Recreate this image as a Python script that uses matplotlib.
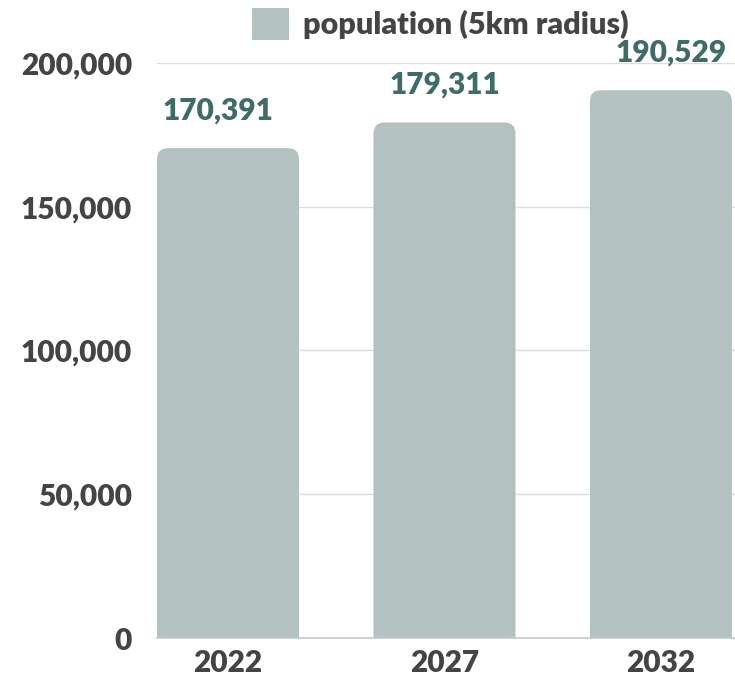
import matplotlib
matplotlib.use("Agg")
import matplotlib.pyplot as plt
from matplotlib.patches import FancyBboxPatch, Patch
from matplotlib.ticker import FuncFormatter

years = ["2022", "2027", "2032"]
population = [170391, 179311, 190529]
y_ticks = [0, 50000, 100000, 150000, 200000]

bar_color = "#b3c2c1"
label_color = "#3f6b68"
text_color = "#444444"

plt.rcParams["font.family"] = ["Lato", "DejaVu Sans"]
plt.rcParams["font.weight"] = "heavy"

fig = plt.figure(figsize=(7.35, 6.84), dpi=100)
ax = fig.add_axes([157 / 735, 46 / 684, 578 / 735, 575 / 684])

x = list(range(len(years)))
ax.set_xlim(-0.328, 2.342)
ax.set_ylim(0, 200000)

width = 0.656
# rounded top corners: rounding in x units, aspect fixes y scale
px_x = 1 / 216.5
px_y = 200000 / 575
r = 11 * px_x
for xi, v in zip(x, population):
    box = FancyBboxPatch((xi - width / 2, -20 * px_y), width, v + 20 * px_y,
                         boxstyle=f"round,pad=0,rounding_size={r}",
                         mutation_aspect=px_y / px_x,
                         facecolor=bar_color, edgecolor="none", zorder=2)
    ax.add_patch(box)
    ax.annotate(f"{v:,}", (xi - 0.045 + 0.045 * xi, v), xytext=(0, 27),
                textcoords="offset points", ha="center", va="center",
                fontsize=21.5, fontweight="heavy", color=label_color)

ax.set_yticks(y_ticks)
ax.yaxis.set_major_formatter(FuncFormatter(lambda v, p: f"{int(v):,}"))
ax.set_xticks(x)
ax.set_xticklabels(years)
ax.tick_params(axis="both", length=0, labelsize=21.5, labelcolor=text_color)
ax.tick_params(axis="y", pad=18)
ax.tick_params(axis="x", pad=8)
ax.grid(axis="y", color="#dddddd", linewidth=1, zorder=0)
ax.set_axisbelow(True)
for s in ["top", "right", "left"]:
    ax.spines[s].set_visible(False)
ax.spines["bottom"].set_color("#c8c8c8")
ax.spines["bottom"].set_linewidth(1.2)

handle = Patch(facecolor=bar_color, edgecolor="none")
leg = fig.legend(handles=[handle], labels=["population (5km radius)"],
                 loc="center", bbox_to_anchor=(0.599, 0.965), frameon=False,
                 handlelength=1.2, handleheight=1.2, handletextpad=0.45,
                 prop={"size": 22, "weight": "heavy"})
for t in leg.get_texts():
    t.set_color(text_color)

fig.savefig("out.png", dpi=100)
